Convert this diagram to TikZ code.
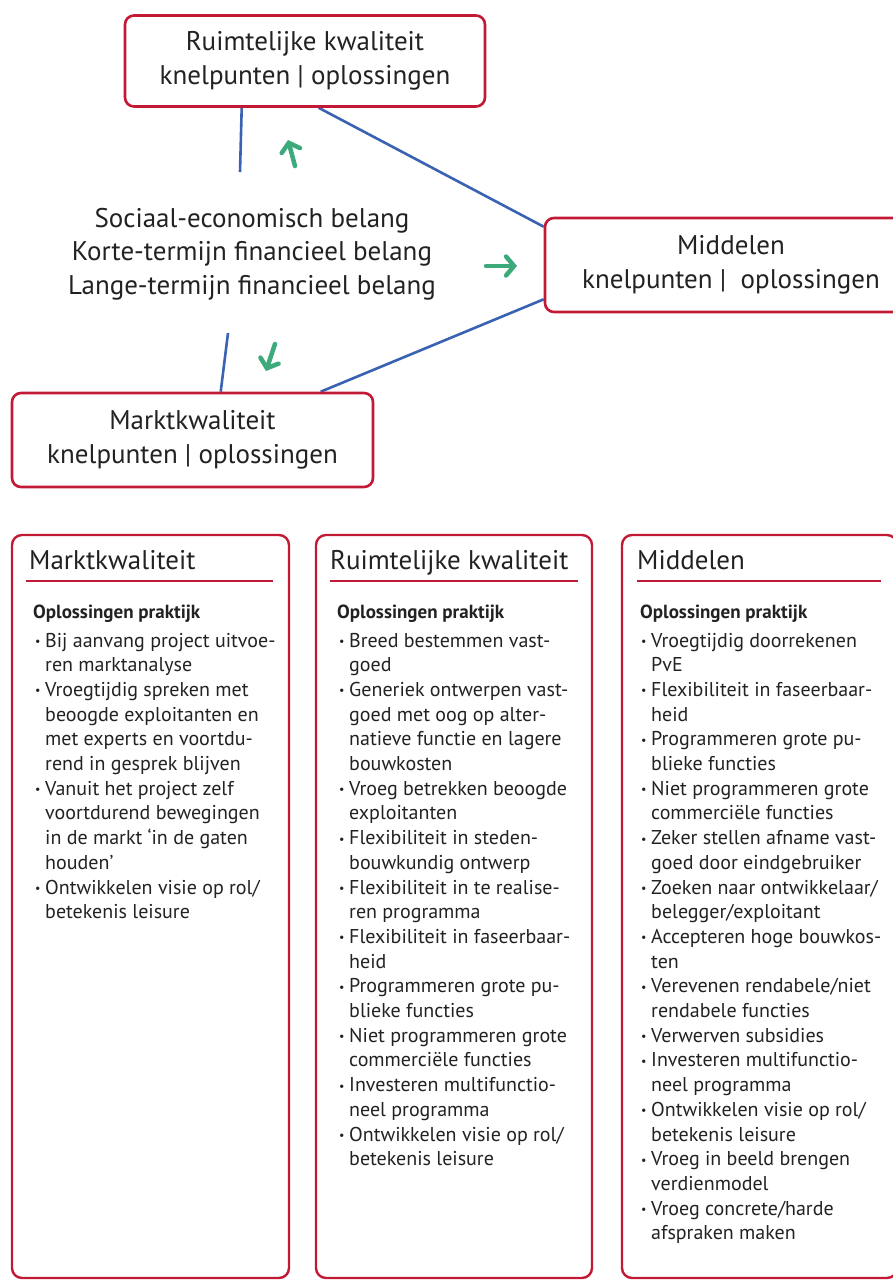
\documentclass[tikz,border=0pt]{standalone}
\usepackage{fontspec}
\setmainfont{PT Sans}
\usetikzlibrary{arrows.meta,backgrounds}

\definecolor{boxred}{HTML}{C21A35}
\definecolor{linkblue}{HTML}{3A62B2}
\definecolor{turngreen}{HTML}{3DAA7C}
\definecolor{ink}{HTML}{222222}

% list helpers: bullet line and continuation line
\newcommand\bitem[1]{\hbox{\makebox[10pt][l]{\fontsize{12}{12}\selectfont\raisebox{1.5pt}{•}}#1}}
\newcommand\citem[1]{\hbox{\hspace*{10pt}#1}}
\newcommand\itemstack[1]{\vtop{\baselineskip=24.7pt\lineskiplimit=-50pt\lineskip=0pt #1}}

\tikzset{
  kbox/.style={draw=boxred, line width=2.6pt, rounded corners=9pt, fill=white,
    align=center, inner sep=0pt, text=ink, font=\fontsize{27}{34}\selectfont},
  link/.style={draw=linkblue, line width=2.6pt},
  turn/.style={draw=turngreen, line width=4.5pt, line cap=round,
    -{Straight Barb[length=8pt,width=19pt,line cap=round]}},
  colbox/.style={draw=boxred, line width=2.4pt, rounded corners=10pt},
  rule/.style={draw=boxred, line width=2.6pt},
  coltitle/.style={anchor=base west, inner sep=0pt, text=ink, font=\fontsize{27}{27}\selectfont},
  colsub/.style={anchor=base west, inner sep=0pt, text=ink, font=\fontsize{19}{19}\selectfont\bfseries},
  collist/.style={anchor=base west, inner sep=0pt, text=ink, font=\fontsize{20}{24.7}\selectfont},
}

\begin{document}
\begin{tikzpicture}[x=1pt, y=-1pt]
\useasboundingbox (0,0) rectangle (893,1282);
\clip (0,0) rectangle (893,1282);

% ---- triangle of themes ----
\node[kbox, minimum width=360pt, minimum height=91pt] (rk) at (305,61)
  {Ruimtelijke kwaliteit\\knelpunten | oplossingen};
\node[kbox, minimum width=372pt, minimum height=94pt] (mid) at (731,265)
  {Middelen\\knelpunten |\ \ oplossingen};
\node[kbox, minimum width=361pt, minimum height=94pt] (mk) at (192.5,440)
  {Marktkwaliteit\\knelpunten | oplossingen};

\node[align=center, inner sep=0pt, text=ink, font=\fontsize{27}{33.5}\selectfont] (belang) at (252,254)
  {Sociaal-economisch belang\\Korte-termijn financieel belang\\Lange-termijn financieel belang};

\coordinate (rkfoot) at (240,172);
\coordinate (mkfoot) at (228,333);

\begin{scope}[on background layer]
  \fill[white] (0,0) rectangle (893,1282);
  \draw[link] ([xshift=118pt]rk.south west) -- (rkfoot);
  \draw[link] ([xshift=195pt]rk.south west) -- ([yshift=-10pt]mid.north west);
  \draw[link] ([xshift=210pt]mk.north west) -- (mkfoot);
  \draw[link] ([yshift=14pt]mid.south west) -- ([xshift=310pt]mk.north west);
\end{scope}

\coordinate (upA) at (295,166);   \coordinate (upB) at (288,140);
\coordinate (rtA) at (486,266);   \coordinate (rtB) at (517,266);
\coordinate (dnA) at (275,344);   \coordinate (dnB) at (266,371);
\draw[turn] (upA) -- (upB);
\draw[turn] (rtA) -- (rtB);
\draw[turn] (dnA) -- (dnB);

% ---- three columns ----
\draw[colbox] (12,535) rectangle (289,1278);
\draw[colbox] (316,535) rectangle (592,1278);
\draw[colbox] (622,535) rectangle (897,1278);

\node[coltitle] (t1) at (29,569) {Marktkwaliteit};
\node[coltitle] (t2) at (330,569) {Ruimtelijke kwaliteit};
\node[coltitle] (t3) at (637,569) {Middelen};
\draw[rule] (26,581) -- (273,581);
\draw[rule] (330,581) -- (578,581);
\draw[rule] (637,581) -- (881,581);

\node[colsub] (s1) at (33,618) {Oplossingen praktijk};
\node[colsub] (s2) at (337,618) {Oplossingen praktijk};
\node[colsub] (s3) at (640,618) {Oplossingen praktijk};

\node[collist] (l1) at (35,647) {\itemstack{%
  \bitem{Bij aanvang project uitvoe-}
  \citem{ren marktanalyse}
  \bitem{Vroegtijdig spreken met}
  \citem{beoogde exploitanten en}
  \citem{met experts en voortdu-}
  \citem{rend in gesprek blijven}
  \bitem{Vanuit het project zelf}
  \citem{voortdurend bewegingen}
  \citem{in de markt ‘in de gaten}
  \citem{houden’}
  \bitem{Ontwikkelen visie op rol/}
  \citem{betekenis leisure}}};

\node[collist] (l2) at (339,647) {\itemstack{%
  \bitem{Breed bestemmen vast-}
  \citem{goed}
  \bitem{Generiek ontwerpen vast-}
  \citem{goed met oog op alter-}
  \citem{natieve functie en lagere}
  \citem{bouwkosten}
  \bitem{Vroeg betrekken beoogde}
  \citem{exploitanten}
  \bitem{Flexibiliteit in steden-}
  \citem{bouwkundig ontwerp}
  \bitem{Flexibiliteit in te realise-}
  \citem{ren programma}
  \bitem{Flexibiliteit in faseerbaar-}
  \citem{heid}
  \bitem{Programmeren grote pu-}
  \citem{blieke functies}
  \bitem{Niet programmeren grote}
  \citem{commerciële functies}
  \bitem{Investeren multifunctio-}
  \citem{neel programma}
  \bitem{Ontwikkelen visie op rol/}
  \citem{betekenis leisure}}};

\node[collist] (l3) at (641,647) {\itemstack{%
  \bitem{Vroegtijdig doorrekenen}
  \citem{PvE}
  \bitem{Flexibiliteit in faseerbaar-}
  \citem{heid}
  \bitem{Programmeren grote pu-}
  \citem{blieke functies}
  \bitem{Niet programmeren grote}
  \citem{commerciële functies}
  \bitem{Zeker stellen afname vast-}
  \citem{goed door eindgebruiker}
  \bitem{Zoeken naar ontwikkelaar/}
  \citem{belegger/exploitant}
  \bitem{Accepteren hoge bouwkos-}
  \citem{ten}
  \bitem{Verevenen rendabele/niet}
  \citem{rendabele functies}
  \bitem{Verwerven subsidies}
  \bitem{Investeren multifunctio-}
  \citem{neel programma}
  \bitem{Ontwikkelen visie op rol/}
  \citem{betekenis leisure}
  \bitem{Vroeg in beeld brengen}
  \citem{verdienmodel}
  \bitem{Vroeg concrete/harde}
  \citem{afspraken maken}}};
\end{tikzpicture}
\end{document}
